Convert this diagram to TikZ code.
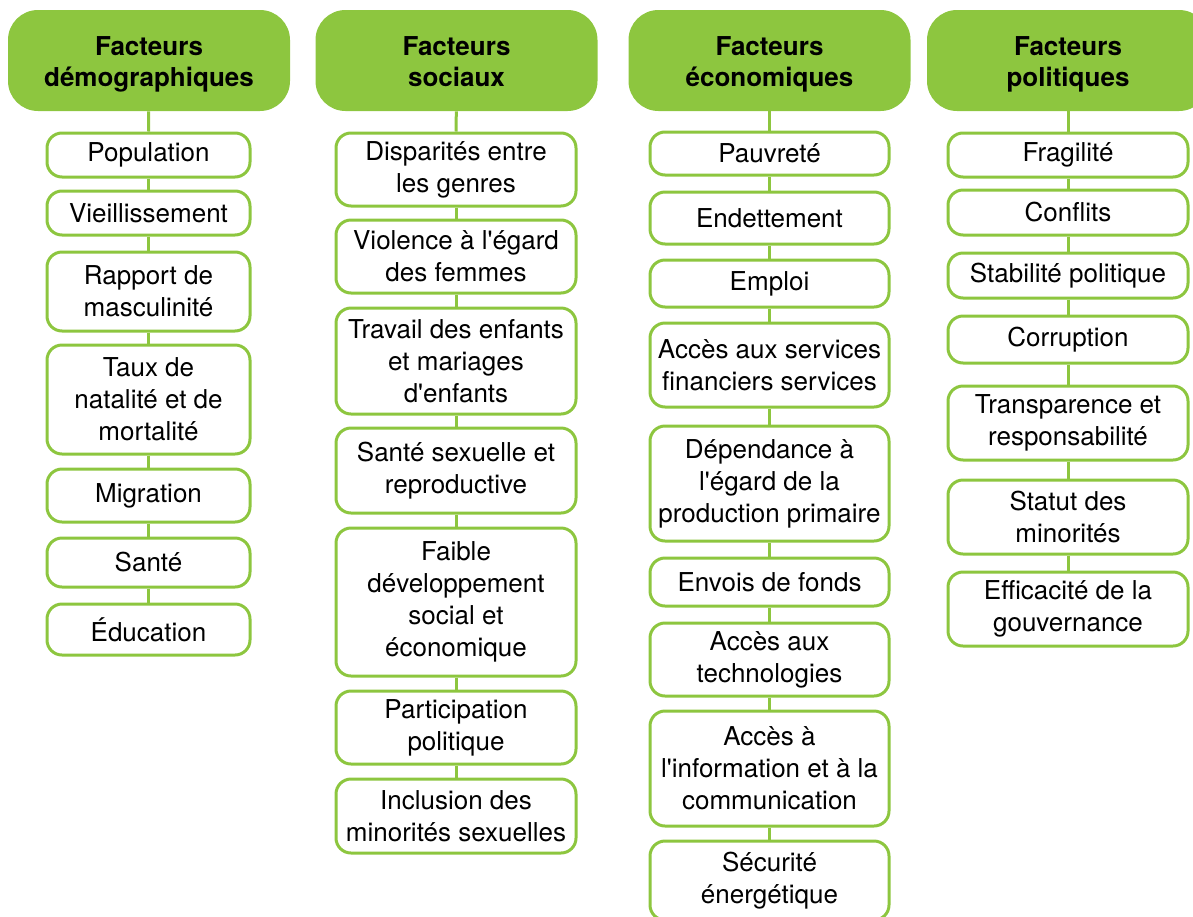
\documentclass[tikz,border=0pt]{standalone}
\usepackage{fontspec}
\setmainfont{TeX Gyre Heros}
\usepackage{xcolor}
\usepackage{tikz}

\definecolor{facgreen}{RGB}{141,198,63}

\begin{document}
\begin{tikzpicture}[
    x=0.5pt, y=-0.5pt,
    head_box/.style={rectangle, fill=facgreen, rounded corners=15pt, minimum width=141pt, minimum height=50.5pt, align=center, inner sep=2pt, text height=28.5pt, text depth=3pt, font=\bfseries\fontsize{13}{15.5}\selectfont},
    item_box/.style={rectangle, draw=facgreen, line width=1.5pt, fill=white, rounded corners=7.5pt, minimum width=120pt, align=center, inner sep=2pt, font=\fontsize{13}{16}\selectfont},
    narrow_box/.style={item_box, minimum width=101.5pt},
    link_style/.style={draw=facgreen, line width=1.5pt}
]

\useasboundingbox (0,0) rectangle (1193,916);
\clip (0,0) rectangle (1193,916);

% Headers
\node[head_box] (hdemo) at (149,60.5) {Facteurs\\démographiques};
\node[head_box] (hsoc) at (456.5,60.5) {Facteurs\\sociaux};
\node[head_box] (heco) at (769.5,60.5) {Facteurs\\économiques};
\node[head_box] (hpol) at (1068,60.5) {Facteurs\\politiques};

% Demographic factors
\node[narrow_box, minimum height=22pt] (d1) at (148.5,155) {Population};
\node[narrow_box, minimum height=22pt] (d2) at (148.5,213) {Vieillissement};
\node[narrow_box, minimum height=39.5pt] (d3) at (148.5,291.5) {Rapport de\\masculinité};
\node[narrow_box, minimum height=54.5pt] (d4) at (148.5,399.5) {Taux de\\natalité et de\\mortalité};
\node[narrow_box, minimum height=26.5pt] (d5) at (148.5,495.5) {Migration};
\node[narrow_box, minimum height=24.5pt] (d6) at (148.5,562.5) {Santé};
\node[narrow_box, minimum height=25.5pt] (d7) at (148.5,629.5) {Éducation};

% Social factors
\node[item_box, minimum height=36.5pt] (s1) at (456,169.5) {Disparités entre\\les genres};
\node[item_box, minimum height=36.5pt] (s2) at (456,256.5) {Violence à l\textquotesingle égard\\des femmes};
\node[item_box, minimum height=53pt] (s3) at (456,361) {Travail des enfants\\et mariages\\d\textquotesingle enfants};
\node[item_box, minimum height=42.5pt] (s4) at (456,470.5) {Santé sexuelle et\\reproductive};
\node[item_box, minimum height=74pt] (s5) at (456,602) {Faible\\développement\\social et\\économique};
\node[item_box, minimum height=36.5pt] (s6) at (456,727.5) {Participation\\politique};
\node[item_box, minimum height=37pt] (s7) at (456,816) {Inclusion des\\minorités sexuelles};

% Economic factors
\node[item_box, minimum width=119.5pt, minimum height=21.5pt] (e1) at (769.5,153.5) {Pauvreté};
\node[item_box, minimum width=119.5pt, minimum height=26pt] (e2) at (769.5,218) {Endettement};
\node[item_box, minimum width=119.5pt, minimum height=23.5pt] (e3) at (769.5,283.5) {Emploi};
\node[item_box, minimum width=119.5pt, minimum height=42pt] (e4) at (769.5,365) {Accès aux services\\financiers services};
\node[item_box, minimum width=119.5pt, minimum height=57.5pt] (e5) at (769.5,483.5) {Dépendance à\\l\textquotesingle égard de la\\production primaire};
\node[item_box, minimum width=119.5pt, minimum height=24pt] (e6) at (769.5,582) {Envois de fonds};
\node[item_box, minimum width=119.5pt, minimum height=36.5pt] (e7) at (769.5,659.5) {Accès aux\\technologies};
\node[item_box, minimum width=119.5pt, minimum height=57.5pt] (e8) at (769.5,768.5) {Accès à\\l\textquotesingle information et à la\\communication};
\node[item_box, minimum width=119.5pt, minimum height=39.5pt] (e9) at (769.5,880.5) {Sécurité\\énergétique};

% Political factors
\node[item_box, minimum height=22pt] (p1) at (1068,155) {Fragilité};
\node[item_box, minimum height=22.5pt] (p2) at (1068,212.5) {Conflits};
\node[item_box, minimum height=22.5pt] (p3) at (1068,275.5) {Stabilité politique};
\node[item_box, minimum height=23.5pt] (p4) at (1068,339.5) {Corruption};
\node[item_box, minimum height=37pt] (p5) at (1068,423) {Transparence et\\responsabilité};
\node[item_box, minimum height=37pt] (p6) at (1068,517) {Statut des\\minorités};
\node[item_box, minimum height=37pt] (p7) at (1068,609) {Efficacité de la\\gouvernance};

% Vertical links, demographic column
\draw[link_style] (hdemo) -- (d1);
\draw[link_style] (d1) -- (d2);
\draw[link_style] (d2) -- (d3);
\draw[link_style] (d3) -- (d4);
\draw[link_style] (d4) -- (d5);
\draw[link_style] (d5) -- (d6);
\draw[link_style] (d6) -- (d7);

% Vertical links, social column
\draw[link_style] (hsoc) -- (s1);
\draw[link_style] (s1) -- (s2);
\draw[link_style] (s2) -- (s3);
\draw[link_style] (s3) -- (s4);
\draw[link_style] (s4) -- (s5);
\draw[link_style] (s5) -- (s6);
\draw[link_style] (s6) -- (s7);

% Vertical links, economic column
\draw[link_style] (heco) -- (e1);
\draw[link_style] (e1) -- (e2);
\draw[link_style] (e2) -- (e3);
\draw[link_style] (e3) -- (e4);
\draw[link_style] (e4) -- (e5);
\draw[link_style] (e5) -- (e6);
\draw[link_style] (e6) -- (e7);
\draw[link_style] (e7) -- (e8);
\draw[link_style] (e8) -- (e9);

% Vertical links, political column
\draw[link_style] (hpol) -- (p1);
\draw[link_style] (p1) -- (p2);
\draw[link_style] (p2) -- (p3);
\draw[link_style] (p3) -- (p4);
\draw[link_style] (p4) -- (p5);
\draw[link_style] (p5) -- (p6);
\draw[link_style] (p6) -- (p7);

\end{tikzpicture}
\end{document}
